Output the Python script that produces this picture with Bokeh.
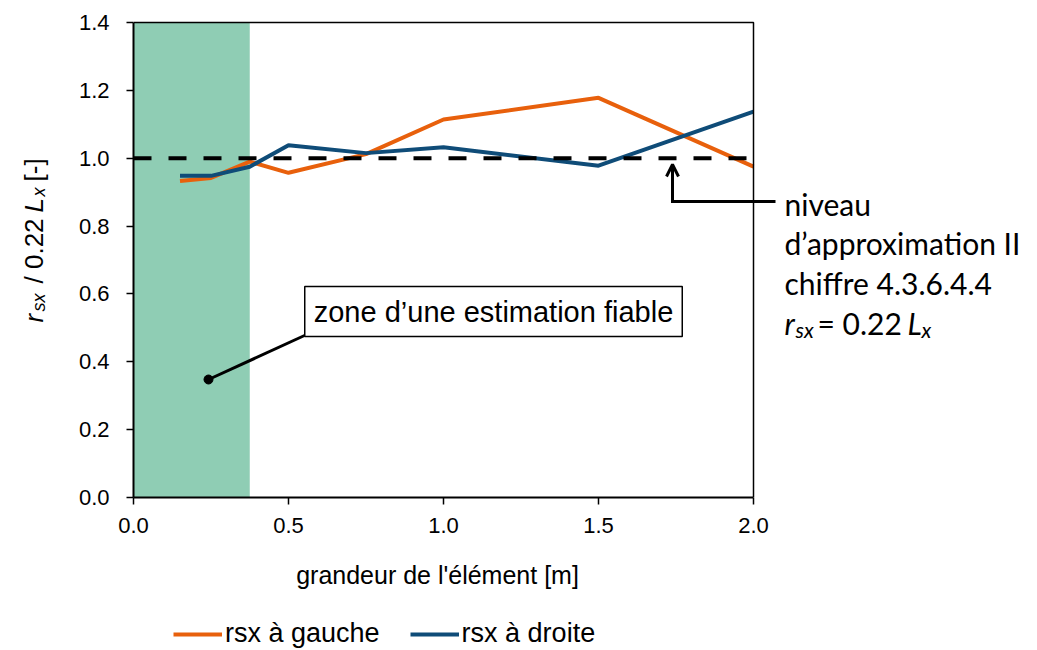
import math
from bokeh.plotting import figure
from bokeh.layouts import column, row
from bokeh.models import (Label, Legend, LegendItem, Arrow, OpenHead, FixedTicker,
                          NumeralTickFormatter, Range1d)
from bokeh.embed import file_html
from bokeh.resources import INLINE

# ---- data ----
x_gauche = [0.15, 0.25, 0.375, 0.5, 0.75, 1.0, 1.5, 2.0]
y_gauche = [0.933, 0.942, 0.99, 0.957, 1.012, 1.114, 1.178, 0.975]
x_droite = [0.15, 0.25, 0.375, 0.5, 0.75, 1.0, 1.5, 2.0]
y_droite = [0.948, 0.948, 0.975, 1.038, 1.015, 1.032, 0.978, 1.137]
ref_x = [0.0, 2.0]
ref_y = [1.0, 1.0]
zone_end = 0.375
x_min, x_max = 0.0, 2.0
y_min, y_max = 0.0, 1.4
x_ticks = [0.0, 0.5, 1.0, 1.5, 2.0]
y_ticks = [0.0, 0.2, 0.4, 0.6, 0.8, 1.0, 1.2, 1.4]
series_names = ["rsx à gauche", "rsx à droite"]
x_title = "grandeur de l'élément [m]"

ORANGE = "#E8600C"
BLUE = "#0F4C78"
GREEN = "#8FCDB4"
SANS = "Liberation Sans"

# ---- page geometry (pixels) ----
LEFT_W = 60
TOP_H = 550
BOT_H = 650 - TOP_H
FRAME_L, FRAME_R_DATA_PX, FRAME_T, FRAME_B = 133, 753, 10, 497
PX_PER_X = (FRAME_R_DATA_PX - FRAME_L) / (x_max - x_min)
PX_PER_Y = (FRAME_B - 22) / (y_max - y_min)
frame_w = 1037 - FRAME_L
frame_h = FRAME_B - FRAME_T
y_end = y_min + frame_h / PX_PER_Y

p = figure(width=1037 - LEFT_W, height=TOP_H,
           x_range=Range1d(x_min, x_min + frame_w / PX_PER_X),
           y_range=Range1d(y_min, y_end),
           output_backend="svg", toolbar_location=None,
           min_border_left=FRAME_L - LEFT_W, min_border_right=0,
           min_border_top=FRAME_T, min_border_bottom=TOP_H - FRAME_B)
p.grid.visible = False
p.outline_line_color = None
p.background_fill_color = "white"
p.border_fill_color = "white"


def dx(px):
    return x_min + (px - FRAME_L) / PX_PER_X


def dy(py):
    return y_min + (FRAME_B - py) / PX_PER_Y


# zone fiable
p.quad(left=[x_min], right=[zone_end], bottom=[y_min], top=[y_max],
       fill_color=GREEN, line_color=None)

r1 = p.line(x_gauche, y_gauche, line_color=ORANGE, line_width=4)
r2 = p.line(x_droite, y_droite, line_color=BLUE, line_width=4)
p.line(ref_x, ref_y, line_color="black", line_width=4, line_dash="18 17")

# plot box (top and right edges)
p.line([x_min, x_max, x_max], [y_max, y_max, y_min], line_color="black",
       line_width=1.5)

# axes
for ax in (p.xaxis[0], p.yaxis[0]):
    ax.axis_line_width = 2
    ax.axis_line_color = "black"
    ax.major_tick_line_width = 1.5
    ax.major_tick_in = 0
    ax.major_tick_out = 7
    ax.minor_tick_line_color = None
    ax.major_label_text_font = SANS
    ax.major_label_text_font_size = "22px"
    ax.major_label_text_color = "black"
    ax.formatter = NumeralTickFormatter(format="0.0")
p.xaxis.bounds = (x_min, x_max)
p.yaxis.bounds = (y_min, y_max)
p.xaxis.ticker = FixedTicker(ticks=x_ticks)
p.yaxis.ticker = FixedTicker(ticks=y_ticks)
p.xaxis.major_label_standoff = 13
p.yaxis.major_label_standoff = 17

# callout box
p.add_layout(Label(x=dx(493), y=dy(311), text="zone d\u2019une estimation fiable",
                   text_align="center", text_baseline="middle",
                   text_font=SANS, text_font_size="29px",
                   text_color="black", background_fill_color="white",
                   border_line_color="black", border_line_width=1.5, padding=9))
p.segment(x0=[dx(304)], y0=[dy(335)], x1=[dx(208)], y1=[dy(379)],
          line_color="black", line_width=3)
p.scatter([dx(208)], [dy(379)], size=9, color="black")

# arrow to reference level
p.add_layout(Arrow(x_start=dx(672), y_start=dy(201), x_end=dx(672), y_end=dy(164),
                   line_width=3, line_color="black",
                   end=OpenHead(size=12, line_width=3, line_color="black")))
p.add_layout(Arrow(x_start=dx(670.5), y_start=dy(201), x_end=dx(775), y_end=dy(201),
                   line_width=3, line_color="black", end=None))

# right-hand text
RF = "Lato"
RFS = "30px"
for t, py in [("niveau", 203), ("d\u2019approximation II", 242),
              ("chiffre 4.3.6.4.4", 282)]:
    p.add_layout(Label(x=dx(784), y=dy(py), text=t, text_align="left",
                       text_baseline="alphabetic", text_font=RF,
                       text_font_size=RFS, text_color="black"))
for t, px, py, st, fs in [("r", 784, 322, "italic", RFS),
                          ("sx", 795, 329, "italic", "21px"),
                          ("= 0.22", 817, 322, "normal", RFS),
                          ("L", 907, 322, "italic", RFS),
                          ("x", 921, 329, "italic", "21px")]:
    p.add_layout(Label(x=dx(px), y=dy(py), text=t, text_align="left",
                       text_baseline="alphabetic", text_font=RF,
                       text_font_size=fs, text_font_style=st, text_color="black"))

# ---- left strip: y-axis title in pieces ----
fl = figure(width=LEFT_W, height=TOP_H, x_range=Range1d(0, LEFT_W),
            y_range=Range1d(y_min, y_end), output_backend="svg",
            toolbar_location=None, x_axis_location=None, y_axis_location=None,
            min_border_left=0, min_border_right=0, min_border_top=FRAME_T,
            min_border_bottom=TOP_H - FRAME_B)
fl.grid.visible = False
fl.outline_line_color = None
ytitle = [("r", 322, 33, "italic", "26px"), ("sx", 311, 38, "italic", "18px"),
          ("/ 0.22", 283, 33, "normal", "26px"), ("L", 212, 33, "italic", "26px"),
          ("x", 196, 38, "italic", "18px"), ("[-]", 181, 33, "normal", "26px")]
for t, py, px, st, fs in ytitle:
    fl.add_layout(Label(x=px, y=dy(py), text=t, angle=math.pi / 2,
                        text_align="left", text_baseline="alphabetic",
                        text_font=SANS, text_font_size=fs,
                        text_font_style=st, text_color="black"))

# ---- bottom strip: x-axis title and legend ----
fb = figure(width=1037, height=BOT_H, x_range=Range1d(0, 1037),
            y_range=Range1d(0, BOT_H), output_backend="svg", toolbar_location=None,
            x_axis_location=None, y_axis_location=None,
            min_border_left=0, min_border_right=0, min_border_top=0,
            min_border_bottom=0)
fb.grid.visible = False
fb.outline_line_color = None
fb.add_layout(Label(x=437, y=650 - 574, text=x_title, text_align="center",
                    text_baseline="middle", text_font=SANS, text_font_size="25px",
                    text_color="black"))
l1 = fb.line([-20, -10], [-20, -20], line_color=ORANGE, line_width=4)
l2 = fb.line([-20, -10], [-20, -20], line_color=BLUE, line_width=4)
legend = Legend(items=[LegendItem(label=series_names[0], renderers=[l1]),
                       LegendItem(label=series_names[1], renderers=[l2])],
                orientation="horizontal", location=(173, 1),
                label_text_font=SANS, label_text_font_size="27px",
                label_text_color="black", glyph_width=49, glyph_height=20,
                label_standoff=3, spacing=30, padding=0, margin=0,
                border_line_color=None, background_fill_alpha=0)
fb.add_layout(legend, "center")

layout = column(row(fl, p, spacing=0), fb, spacing=0)
open("out.html", "w").write(file_html(layout, INLINE))
